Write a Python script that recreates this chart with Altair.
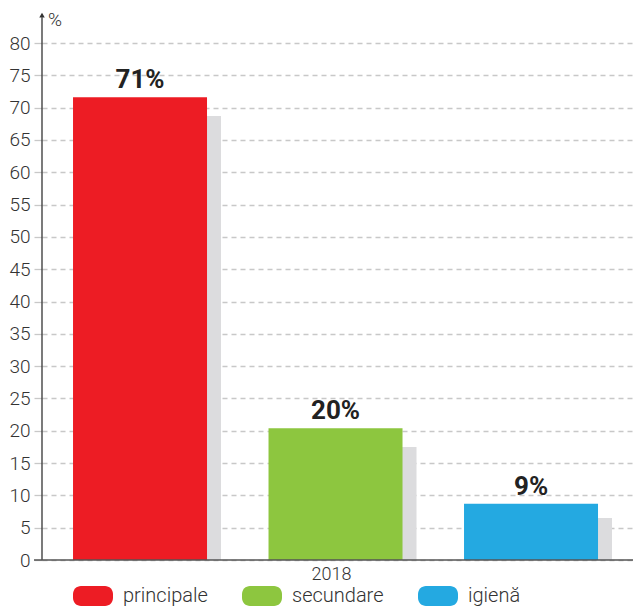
import altair as alt
import pandas as pd

categories = ["principale", "secundare", "igienă"]
values = [71.6, 20.4, 8.7]
shadow_values = [68.7, 17.5, 6.5]
labels = ["71%", "20%", "9%"]
colors = ["#ed1c24", "#8dc63f", "#24a9e1"]
year = "2018"
y_ticks = list(range(0, 85, 5))

df = pd.DataFrame({"cat": categories, "v": values, "s": shadow_values, "lab": labels})

FONT = "Roboto"
W, H = 591, 517

xscale = alt.Scale(domain=categories, paddingInner=0.3146, paddingOuter=0.1688, align=0.47)
yscale = alt.Scale(domain=[0, 80], nice=False, zero=True)

x_axis = alt.Axis(title=year, labels=False, ticks=False, domain=False,
                  titleFont=FONT, titleFontSize=18, titleFontWeight=300,
                  titleColor="#333", titlePadding=5, titleX=289)
y_axis = alt.Axis(values=y_ticks, tickCount=40, title=None, domain=False, grid=True,
                  labelOverlap=False, labelFlush=False,
                  gridColor="#c8c8c8", gridDash=[5, 4], gridWidth=1.3,
                  tickColor="#c8c8c8", tickSize=8, tickWidth=1.3,
                  labelFont=FONT, labelFontSize=19, labelFontWeight=300,
                  labelColor="#333", labelPadding=4)


def X():
    return alt.X("cat:N", scale=xscale, sort=categories, axis=x_axis)


def Y(field):
    return alt.Y(field, scale=yscale, axis=y_axis)


shadow = alt.Chart(df).mark_bar(color="#dcdcde", xOffset=14).encode(
    x=X(), y=Y("s:Q"))

rr = ("M-0.6,-0.5 L0.6,-0.5 A0.4,0.4 0 0 1 1,-0.1 L1,0.1 A0.4,0.4 0 0 1 0.6,0.5 "
      "L-0.6,0.5 A0.4,0.4 0 0 1 -1,0.1 L-1,-0.1 A0.4,0.4 0 0 1 -0.6,-0.5 Z")

bars = alt.Chart(df).mark_bar().encode(
    x=X(), y=Y("v:Q"),
    color=alt.Color("cat:N", scale=alt.Scale(domain=categories, range=colors),
                    legend=alt.Legend(title=None, orient="none", direction="horizontal",
                                      legendX=31, legendY=533,
                                      symbolType=rr, symbolSize=1600,
                                      symbolStrokeWidth=0, symbolOpacity=1,
                                      labelFont=FONT, labelFontSize=20, labelFontWeight=300,
                                      labelColor="#333", labelOffset=10, columnPadding=34)),
)

text = alt.Chart(df).mark_text(font=FONT, fontSize=26, fontWeight="bold", color="#222",
                               baseline="alphabetic", dy=-9).encode(
    x=X(), y=Y("v:Q"), text="lab:N")

deco = pd.DataFrame({"y0": [0], "y1": [84.0], "ya": [84.3], "yp": [83.6], "p": ["%"]})

yline = alt.Chart(deco).mark_rule(color="#333", strokeWidth=1.3).encode(
    x=alt.value(0), y=Y("y0:Q"), y2="y1:Q")
arrow = alt.Chart(deco).mark_point(shape="triangle-up", filled=True, size=30,
                                   color="#333", opacity=1).encode(
    x=alt.value(0), y=Y("ya:Q"))
pct = alt.Chart(deco).mark_text(font=FONT, fontSize=19, fontWeight=300, color="#333",
                                baseline="middle").encode(
    x=alt.value(13), y=Y("yp:Q"), text="p:N")
xline = alt.Chart(deco).mark_rule(color="#555", strokeWidth=1.5).encode(
    x=alt.value(-8), x2=alt.value(W), y=Y("y0:Q"))

chart = alt.layer(shadow, bars, text, yline, xline, arrow, pct).properties(
    width=W, height=H,
    autosize=alt.AutoSizeParams(type="none"),
    padding={"left": 34, "top": 35, "right": 0, "bottom": 48},
).configure_view(stroke=None)

chart.save("out.html", embed_options={"renderer": "svg", "actions": False})
